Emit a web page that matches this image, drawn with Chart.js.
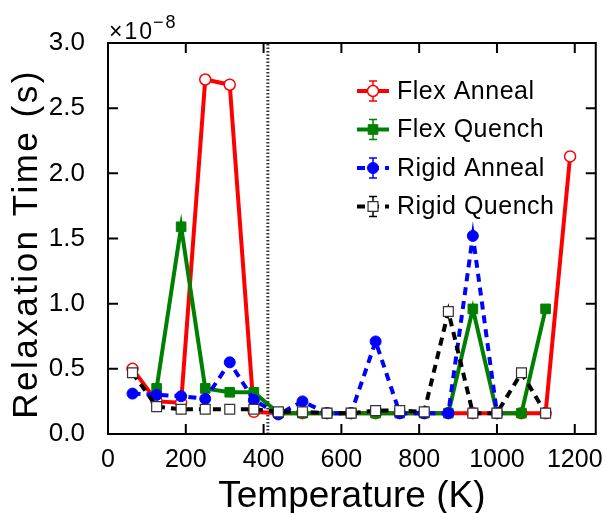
<!DOCTYPE html>
<html>
<head>
<meta charset="utf-8">
<script src="https://cdn.jsdelivr.net/npm/chart.js@4/dist/chart.umd.min.js"></script>
<style>
  html, body { margin: 0; padding: 0; background: #fff; }
  #wrap { width: 606px; height: 513px; }
</style>
</head>
<body>
<div id="wrap"><canvas id="grafica" width="606" height="513"></canvas></div>
<script>
// temperatures (K) and relaxation times in units of 1e-8 s
var temps = [63, 125, 188, 250, 313, 375, 438, 500, 563, 625, 688, 750, 813, 875, 938, 1000, 1063, 1125, 1188];
var flexAnneal  = [0.50, 0.25, 0.24, 2.72, 2.68, 0.17, 0.16, 0.16, 0.16, 0.16, 0.16, 0.16, 0.16, 0.16, 0.16, 0.16, 0.16, 0.16, 2.13];
var flexQuench  = [null, 0.35, 1.59, 0.35, 0.32, 0.32, 0.16, 0.16, 0.16, 0.16, 0.16, 0.16, 0.16, 0.16, 0.96, 0.16, 0.16, 0.96, null];
var rigidAnneal = [0.31, 0.30, 0.29, 0.27, 0.55, 0.26, 0.15, 0.25, 0.16, 0.16, 0.71, 0.16, 0.16, 0.16, 1.52, 0.16, null, null, null];
var rigidQuench = [0.47, 0.21, 0.19, 0.19, 0.19, 0.19, 0.17, 0.17, 0.16, 0.16, 0.18, 0.18, 0.17, 0.94, 0.16, 0.16, 0.47, 0.16, null];
var seriesNames = ["Flex Anneal", "Flex Quench", "Rigid Anneal", "Rigid Quench"];
var xTicks = [0, 200, 400, 600, 800, 1000, 1200];
var yTicks = [0.0, 0.5, 1.0, 1.5, 2.0, 2.5, 3.0];
var markerLineT = 411; // dotted vertical line
var xTitle = "Temperature (K)";
var yTitle = "Relaxation Time (s)";

function pts(arr) {
  return temps.map(function (t, i) { return { x: t, y: arr[i] }; });
}

var FONT = "'Liberation Sans', Arial, sans-serif";

var datos = [
  { label: seriesNames[0], data: pts(flexAnneal), borderColor: "#ff0000", backgroundColor: "#ffffff",
    borderWidth: 4, pointStyle: "circle", pointRadius: 5.5, pointBorderWidth: 1.5,
    pointBorderColor: "#ff0000", pointBackgroundColor: "#ffffff", order: 3, leg: { fill: "#fff", stroke: "#ff0000", dash: [] } },
  { label: seriesNames[1], data: pts(flexQuench), borderColor: "#008000", backgroundColor: "#008000",
    borderWidth: 4, pointStyle: "rect", pointRadius: 6.8, pointBorderWidth: 1,
    pointBorderColor: "#008000", pointBackgroundColor: "#008000", order: 2, leg: { fill: "#008000", stroke: "#008000", dash: [] } },
  { label: seriesNames[2], data: pts(rigidAnneal), borderColor: "#0000ff", backgroundColor: "#0000ff",
    borderWidth: 4, borderDash: [8, 6], pointStyle: "circle", pointRadius: 5.5, pointBorderWidth: 1,
    pointBorderColor: "#0000ff", pointBackgroundColor: "#0000ff", order: 1, leg: { fill: "#0000ff", stroke: "#0000ff", dash: [8, 6] } },
  { label: seriesNames[3], data: pts(rigidQuench), borderColor: "#000000", backgroundColor: "#ffffff",
    borderWidth: 4, borderDash: [8, 6], pointStyle: "rect", pointRadius: 7, pointBorderWidth: 1.2,
    pointBorderColor: "#333333", pointBackgroundColor: "#ffffff", order: 0, leg: { fill: "#fff", stroke: "#333", dash: [8, 6] } },
  { label: "_vline", data: [{ x: markerLineT, y: 0 }, { x: markerLineT, y: 3 }], borderColor: "#333333",
    borderWidth: 3, borderDash: [1.5, 2], pointRadius: 0, order: 5 }
];

// frame, inward ticks, titles, exponent label and legend
var extras = {
  id: "extras",
  afterDraw: function (chart) {
    var ctx = chart.ctx, a = chart.chartArea;
    var xs = chart.scales.x, ys = chart.scales.y;
    ctx.save();
    ctx.strokeStyle = "#000";
    ctx.lineWidth = 2;
    ctx.strokeRect(a.left, a.top, a.right - a.left, a.bottom - a.top);
    ctx.beginPath();
    xTicks.forEach(function (v) {
      var px = xs.getPixelForValue(v);
      ctx.moveTo(px, a.bottom); ctx.lineTo(px, a.bottom - 10);
      ctx.moveTo(px, a.top); ctx.lineTo(px, a.top + 10);
    });
    yTicks.forEach(function (v) {
      var py = ys.getPixelForValue(v);
      ctx.moveTo(a.left, py); ctx.lineTo(a.left + 10, py);
      ctx.moveTo(a.right, py); ctx.lineTo(a.right - 10, py);
    });
    ctx.stroke();

    ctx.fillStyle = "#000";
    ctx.textBaseline = "alphabetic";

    // axis titles
    ctx.textAlign = "center";
    ctx.font = "37px " + FONT;
    ctx.letterSpacing = "0px";
    ctx.fillText(xTitle, (a.left + a.right) / 2, 507);
    ctx.save();
    ctx.translate(37, 244);
    ctx.rotate(-Math.PI / 2);
    ctx.font = "35px " + FONT;
    ctx.letterSpacing = "2.5px";
    ctx.fillText(yTitle, 0, 0);
    ctx.restore();

    // x10^-8
    ctx.textAlign = "left";
    ctx.letterSpacing = "2px";
    ctx.font = "23px " + FONT;
    ctx.fillText("\u00d710", a.left + 1, a.top - 4);
    var w = ctx.measureText("\u00d710").width;
    ctx.font = "18px " + FONT;
    ctx.fillText("\u22128", a.left + w, a.top - 15);

    // legend
    var lx0 = 357, lx1 = 389, mx = 373, ly = 91, step = 38.5;
    datos.slice(0, 4).forEach(function (d, i) {
      var y = ly + i * step;
      ctx.strokeStyle = d.borderColor;
      ctx.lineWidth = 4;
      ctx.setLineDash(d.leg.dash);
      ctx.beginPath(); ctx.moveTo(lx0, y); ctx.lineTo(lx1, y); ctx.stroke();
      ctx.setLineDash([]);
      // small error bar
      ctx.lineWidth = 1.5;
      ctx.beginPath();
      ctx.moveTo(mx, y - 10); ctx.lineTo(mx, y + 10);
      ctx.moveTo(mx - 4, y - 10); ctx.lineTo(mx + 4, y - 10);
      ctx.moveTo(mx - 4, y + 10); ctx.lineTo(mx + 4, y + 10);
      ctx.stroke();
      ctx.fillStyle = d.leg.fill;
      ctx.strokeStyle = d.leg.stroke;
      ctx.lineWidth = d.pointBorderWidth;
      ctx.beginPath();
      if (d.pointStyle === "circle") {
        ctx.arc(mx, y, d.pointRadius, 0, Math.PI * 2);
      } else {
        var s = Math.SQRT1_2 * d.pointRadius;
        ctx.rect(mx - s, y - s, 2 * s, 2 * s);
      }
      ctx.fill(); ctx.stroke();
      ctx.fillStyle = "#000";
      ctx.font = "25px " + FONT;
      ctx.letterSpacing = "0.5px";
      ctx.textBaseline = "middle";
      ctx.fillText(d.label, 397, y + 1);
      ctx.textBaseline = "alphabetic";
    });
    ctx.restore();
  }
};

new Chart(document.getElementById("grafica"), {
  type: "line",
  data: { datasets: datos },
  options: {
    responsive: false,
    animation: false,
    events: [],
    layout: { padding: { left: 0, right: 10, top: 43, bottom: 0 } },
    elements: { line: { tension: 0 } },
    plugins: { legend: { display: false }, tooltip: { enabled: false } },
    scales: {
      x: {
        type: "linear", min: 0, max: 1254,
        afterFit: function (s) { s.height = 79; },
        grid: { display: false },
        border: { display: false },
        ticks: { stepSize: 200, includeBounds: false, color: "#000", padding: 3, maxRotation: 0,
                 callback: function (v) { return String(v); },
                 font: { family: FONT, size: 25 } },
        title: { display: false }
      },
      y: {
        type: "linear", min: 0, max: 3.0,
        afterFit: function (s) { s.width = 108; },
        grid: { display: false },
        border: { display: false },
        ticks: { stepSize: 0.5, color: "#000", padding: 15,
                 callback: function (v) { return v.toFixed(1); },
                 font: { family: FONT, size: 26 } },
        title: { display: false }
      }
    }
  },
  plugins: [extras]
});
</script>
</body>
</html>
